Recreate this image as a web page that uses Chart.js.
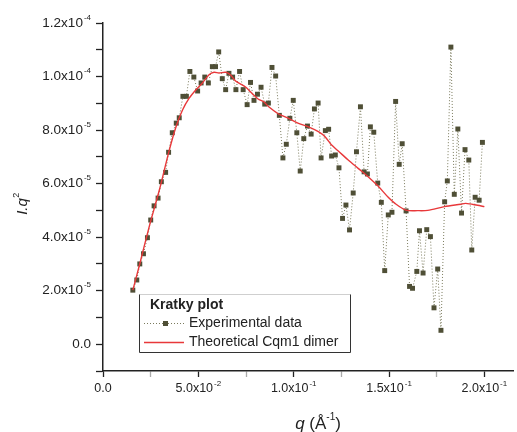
<!DOCTYPE html>
<html>
<head>
<meta charset="utf-8">
<script src="https://cdn.jsdelivr.net/npm/chart.js@4.4.0/dist/chart.umd.min.js"></script>
<style>
  body { margin: 0; background: #fff; }
  #wrap { width: 517px; height: 432px; }
</style>
</head>
<body>
<div id="wrap"><canvas id="kratky" width="517" height="432"></canvas></div>
<script>
// experimental data, q in 1/A, I.q^2 in units of 1e-5
const expQ = [
  0.01564, 0.01772, 0.01929, 0.02121, 0.02330, 0.02502, 0.02679, 0.02888, 0.03060, 0.03284,
  0.03440, 0.03633, 0.03842, 0.03998, 0.04191, 0.04373, 0.04556, 0.04764, 0.04962, 0.05145,
  0.05338, 0.05525, 0.05734, 0.05900, 0.06067, 0.06255, 0.06432, 0.06604, 0.06797, 0.06969,
  0.07162, 0.07350, 0.07558, 0.07735, 0.07918, 0.08100, 0.08288, 0.08481, 0.08673, 0.08861,
  0.09054, 0.09247, 0.09435, 0.09612, 0.09799, 0.09977, 0.10164, 0.10341, 0.10529, 0.10722,
  0.10915, 0.11087, 0.11280, 0.11436, 0.11660, 0.11832, 0.11989, 0.12182, 0.12374, 0.12562,
  0.12739, 0.12927, 0.13120, 0.13292, 0.13500, 0.13693, 0.13865, 0.14021, 0.14199, 0.14407,
  0.14595, 0.14772, 0.14960, 0.15152, 0.15345, 0.15533, 0.15689, 0.15893, 0.16075, 0.16232,
  0.16456, 0.16596, 0.16784, 0.16977, 0.17170, 0.17357, 0.17550, 0.17722, 0.17915, 0.18056,
  0.18243, 0.18421, 0.18608, 0.18801, 0.18984, 0.19182, 0.19338, 0.19515, 0.19724, 0.19896
];
const expI = [
  2.02, 2.40, 3.00, 3.38, 3.98, 4.64, 5.17, 5.46, 6.07, 6.42,
  7.17, 7.90, 8.26, 8.46, 9.26, 9.26, 10.19, 9.98, 9.46, 9.76,
  9.98, 9.76, 10.37, 10.37, 10.92, 9.92, 9.51, 10.12, 9.98, 9.51,
  10.19, 9.51, 8.95, 9.78, 9.11, 9.34, 9.60, 8.97, 9.01, 10.34,
  10.02, 8.55, 6.96, 7.47, 8.44, 9.11, 7.90, 6.47, 7.68, 8.15,
  7.85, 8.79, 9.01, 6.96, 7.98, 8.03, 7.03, 7.07, 6.59, 4.70,
  5.20, 4.27, 5.65, 7.19, 8.87, 6.44, 6.36, 8.12, 7.92, 6.02,
  5.30, 2.75, 4.83, 4.93, 9.07, 6.72, 7.49, 4.98, 2.16, 2.09,
  2.72, 4.24, 2.66, 4.28, 4.02, 1.36, 2.81, 0.52, 5.32, 6.10,
  11.10, 5.60, 8.04, 4.90, 7.27, 6.88, 3.52, 5.49, 5.38, 7.54
];

// theoretical Cqm1 dimer curve
const theoQ = [
  0.01564, 0.01913, 0.02434, 0.02955, 0.03477, 0.03842, 0.04170, 0.04519, 0.04868, 0.05212,
  0.05562, 0.05822, 0.06083, 0.06432, 0.06693, 0.06953, 0.07214, 0.07475, 0.07819, 0.08131,
  0.08428, 0.08689, 0.09210, 0.09731, 0.10253, 0.10774, 0.11295, 0.11645, 0.11989, 0.12338,
  0.12859, 0.13380, 0.13902, 0.14423, 0.14944, 0.15309, 0.15882, 0.16508, 0.17029, 0.17899,
  0.18765, 0.19025, 0.19635, 0.20000
];
const theoI = [
  2.02, 2.96, 4.42, 5.76, 7.25, 8.15, 8.75, 9.19, 9.50, 9.76,
  10.07, 10.16, 10.13, 10.16, 10.06, 9.83, 9.72, 9.61, 9.37, 9.16,
  9.06, 8.87, 8.60, 8.44, 8.25, 8.12, 7.94, 7.75, 7.44, 7.22,
  6.88, 6.57, 6.26, 5.91, 5.50, 5.26, 5.01, 4.99, 5.00, 5.14,
  5.23, 5.26, 5.19, 5.14
];

const xLabelValues = [0, 0.05, 0.10, 0.15, 0.20];
const xTickValues = [0, 0.025, 0.05, 0.075, 0.10, 0.125, 0.15, 0.175, 0.20];
const yLabelValues = [0, 2, 4, 6, 8, 10, 12];          // x 1e-5
const yTickValues = [-1, 0, 1, 2, 3, 4, 5, 6, 7, 8, 9, 10, 11, 12];

const legendTitle = 'Kratky plot';
const seriesNames = ['Experimental data', 'Theoretical Cqm1 dimer'];

const FONT = '"Liberation Sans", Arial, sans-serif';
const INK = '#222';
const MARK = '#4f4f36';
const DOTS = '#7a7a5c';
const RED = '#e8383a';

function toPoints(qs, is) {
  return qs.map((q, i) => ({ x: q, y: is[i] }));
}

function sciParts(v) {
  if (Math.abs(v) < 1e-12) return ['0.0', ''];
  const e = Math.floor(Math.log10(Math.abs(v)) + 1e-9);
  return [(v / Math.pow(10, e)).toFixed(1) + 'x10', String(e)];
}

function drawSci(ctx, v, x, y, align, big, small) {
  const [main, sup] = sciParts(v);
  ctx.font = big + 'px ' + FONT;
  const w1 = ctx.measureText(main).width;
  ctx.font = small + 'px ' + FONT;
  const w2 = sup ? ctx.measureText(sup).width + 1 : 0;
  const total = w1 + w2;
  const x0 = align === 'right' ? x - total : x - total / 2;
  ctx.textAlign = 'left';
  ctx.textBaseline = 'middle';
  ctx.font = big + 'px ' + FONT;
  ctx.fillText(main, x0, y);
  if (sup) {
    ctx.font = small + 'px ' + FONT;
    ctx.fillText(sup, x0 + w1 + 1, y - big * 0.42);
  }
}

const decorations = {
  id: 'decorations',
  afterDraw(chart) {
    const ctx = chart.ctx;
    const xs = chart.scales.x, ys = chart.scales.y;
    ctx.save();
    ctx.fillStyle = INK;

    // tick labels
    yLabelValues.forEach(v => drawSci(ctx, v * 1e-5, xs.left - 12, ys.getPixelForValue(v), 'right', 13.5, 8));
    xLabelValues.forEach(v => drawSci(ctx, v, xs.getPixelForValue(v), ys.bottom + 18, 'center', 12.5, 8));

    // x title: q (A^-1)
    const parts = [
      ['italic 17px ' + FONT, 'q', 0],
      ['17px ' + FONT, ' (Å', 0],
      ['10px ' + FONT, '-1', -7],
      ['17px ' + FONT, ')', 0]
    ];
    let tw = 0;
    parts.forEach(p => { ctx.font = p[0]; tw += ctx.measureText(p[1]).width; });
    let cx = 318 - tw / 2;
    ctx.textBaseline = 'middle';
    parts.forEach(p => {
      ctx.font = p[0];
      ctx.fillText(p[1], cx, 424 + p[2]);
      cx += ctx.measureText(p[1]).width;
    });

    // y title: I.q^2
    ctx.save();
    ctx.translate(23, 204);
    ctx.rotate(-Math.PI / 2);
    ctx.font = 'italic 15px ' + FONT;
    const w1 = ctx.measureText('I.q').width;
    ctx.font = '9px ' + FONT;
    const w2 = ctx.measureText('2').width;
    let yx = -(w1 + w2) / 2;
    ctx.font = 'italic 15px ' + FONT;
    ctx.fillText('I.q', yx, 0);
    ctx.font = '9px ' + FONT;
    ctx.fillText('2', yx + w1 + 0.5, -6);
    ctx.restore();

    // legend box
    const lx = 139.5, ly = 294.5, lw = 211, lh = 58;
    ctx.fillStyle = '#fff';
    ctx.fillRect(lx, ly, lw, lh);
    ctx.lineWidth = 1;
    ctx.strokeStyle = '#cfcfcf';
    ctx.beginPath(); ctx.moveTo(lx, ly); ctx.lineTo(lx + lw, ly); ctx.stroke();
    ctx.strokeStyle = '#333';
    ctx.beginPath();
    ctx.moveTo(lx, ly); ctx.lineTo(lx, ly + lh); ctx.lineTo(lx + lw, ly + lh); ctx.lineTo(lx + lw, ly);
    ctx.stroke();

    ctx.fillStyle = INK;
    ctx.textBaseline = 'middle';
    ctx.font = 'bold 14px ' + FONT;
    ctx.fillText(legendTitle, 150, 305);
    ctx.font = '14px ' + FONT;
    ctx.fillText(seriesNames[0], 189, 323.5);
    ctx.fillText(seriesNames[1], 189, 342.5);

    ctx.strokeStyle = DOTS;
    ctx.setLineDash([1, 2]);
    ctx.beginPath(); ctx.moveTo(144, 323.5); ctx.lineTo(185, 323.5); ctx.stroke();
    ctx.setLineDash([]);
    ctx.fillStyle = MARK;
    ctx.fillRect(163, 321, 5, 5);
    ctx.strokeStyle = RED;
    ctx.lineWidth = 1.4;
    ctx.beginPath(); ctx.moveTo(144, 342.5); ctx.lineTo(184, 342.5); ctx.stroke();
    ctx.restore();
  }
};

new Chart(document.getElementById('kratky'), {
  type: 'line',
  data: {
    datasets: [
      {
        label: seriesNames[1],
        data: toPoints(theoQ, theoI),
        borderColor: RED,
        borderWidth: 1.4,
        pointRadius: 0,
        tension: 0.3,
        order: 0
      },
      {
        label: seriesNames[0],
        data: toPoints(expQ, expI),
        borderColor: DOTS,
        borderWidth: 1,
        borderDash: [1, 2],
        pointStyle: 'rect',
        pointRadius: 3.5,
        pointBackgroundColor: MARK,
        pointBorderColor: MARK,
        pointBorderWidth: 0,
        tension: 0,
        order: 1
      }
    ]
  },
  options: {
    responsive: false,
    animation: false,
    events: [],
    layout: { padding: { top: 23, right: 1, left: 0, bottom: 0 } },
    plugins: { legend: { display: false }, tooltip: { enabled: false } },
    scales: {
      x: {
        type: 'linear',
        min: 0,
        max: 0.215,
        afterBuildTicks: s => { s.ticks = xTickValues.map(v => ({ value: v })); },
        afterFit: s => { s.height = 61; },
        ticks: { display: false },
        border: { display: true, color: INK, width: 1.5 },
        grid: {
          drawOnChartArea: false,
          drawTicks: true,
          tickLength: 6,
          tickColor: c => (Math.round(c.tick.value * 1000) % 50 === 0 ? INK : '#aaa'),
          tickWidth: 1.3
        }
      },
      y: {
        type: 'linear',
        min: -1,
        max: 12,
        afterBuildTicks: s => { s.ticks = yTickValues.map(v => ({ value: v })); },
        afterFit: s => { s.width = 103; },
        ticks: { display: false },
        border: { display: true, color: INK, width: 1.5 },
        grid: {
          drawOnChartArea: false,
          drawTicks: true,
          tickLength: 7,
          color: INK,
          tickWidth: 1.3
        }
      }
    }
  },
  plugins: [decorations]
});
</script>
</body>
</html>
